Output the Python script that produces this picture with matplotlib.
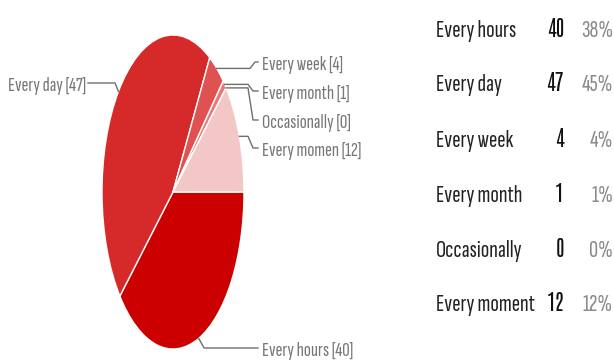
import numpy as np
import matplotlib
matplotlib.use("Agg")
import matplotlib.pyplot as plt

# answers: how often do you check it
categories = ["Every hours", "Every day", "Every week", "Every month", "Occasionally", "Every moment"]
pie_labels = ["Every hours", "Every day", "Every week", "Every month", "Occasionally", "Every momen"]
counts = [40, 47, 4, 1, 0, 12]
colors = ["#cc0000", "#d62a2a", "#e05252", "#e87a7a", "#f0a3a3", "#f4c7c7"]

W, H = 614, 362
CX, CY, RX, RY = 173, 192, 71, 157  # pie centre / radii in pixels

NARROW = ["Sofia Sans Extra Condensed", "Pathway Gothic One", "DejaVu Sans"]
NARROW_BOLD = ["Antonio", "Fira Sans Extra Condensed", "DejaVu Sans"]


def fx(x):
    return x / W


def fy(y):
    return 1 - y / H


fig = plt.figure(figsize=(W / 100, H / 100), dpi=100)
ax = fig.add_axes([0, 0, 1, 1])
ax.set_axis_off()

wedges, _ = ax.pie(counts, colors=colors, startangle=0, counterclock=False,
                   wedgeprops=dict(edgecolor="white", linewidth=1.0))
# unit circle -> ellipse on the canvas
ax.set_aspect("auto")
ax.set_xlim(-CX / RX, (W - CX) / RX)
ax.set_ylim((CY - H) / RY, CY / RY)

# label layout: (text y of leader end, elbow x, side)
label_y = [348, 83, 62, 91, 120, 148]
elbow_x = [199, 115, 250, 248, 248, 248]
sides = ["r", "l", "r", "r", "r", "r"]

for w, lab, n, ly, ex, side in zip(wedges, pie_labels, counts, label_y, elbow_x, sides):
    mid = np.deg2rad((w.theta1 + w.theta2) / 2)
    sx = CX + RX * np.cos(mid)
    sy = CY - RY * np.sin(mid)
    if side == "r":
        pts = [(sx, sy), (ex, sy), (ex + 5, ly), (258, ly)]
        tx, ha = 262, "left"
    else:
        pts = [(sx, sy), (ex, ly), (88, ly)]
        tx, ha = 86, "right"
    xs = [fx(p[0]) for p in pts]
    ys = [fy(p[1]) for p in pts]
    fig.add_artist(plt.Line2D(xs, ys, color="#6e6e6e", linewidth=1.0))
    fig.text(fx(tx), fy(ly + 8), f"{lab} [{n}]", ha=ha, va="baseline",
             color="#777777", fontsize=15, family=NARROW)

# summary table
total = sum(counts)
row_y = [37, 91, 147, 202, 257, 311]
for cat, n, yb in zip(categories, counts, row_y):
    pct = round(100 * n / total)
    fig.text(fx(436), fy(yb), cat, ha="left", va="baseline",
             color="#222222", fontsize=18, family=NARROW)
    fig.text(fx(564), fy(yb), str(n), ha="right", va="baseline",
             color="#111111", fontsize=15, fontweight="bold", family=NARROW_BOLD)
    fig.text(fx(613), fy(yb), f"{pct}%", ha="right", va="baseline",
             color="#8a8a8a", fontsize=18, family=NARROW)

fig.savefig("out.png", dpi=100)
